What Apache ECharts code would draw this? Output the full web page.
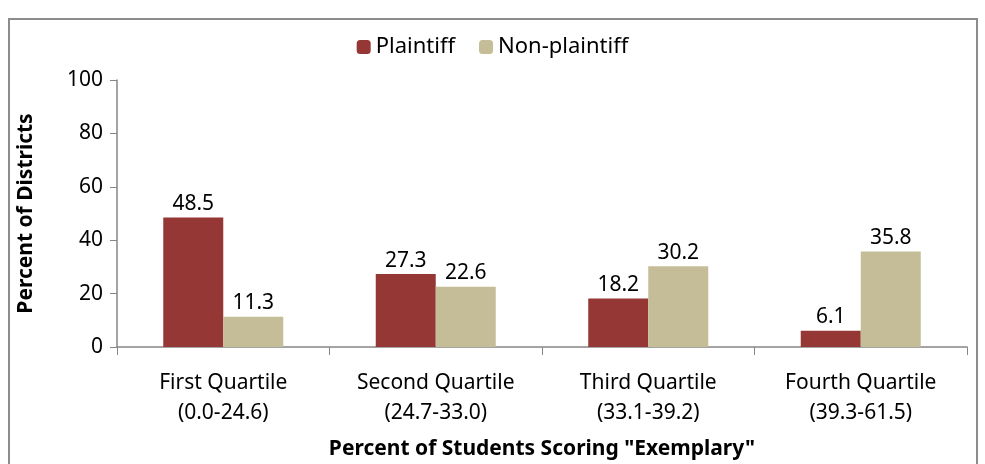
<!DOCTYPE html>
<html>
<head>
<meta charset="utf-8">
<script src="https://cdn.jsdelivr.net/npm/echarts@6/dist/echarts.min.js"></script>
<style>
  html, body { margin: 0; padding: 0; background: #fff; }
  #frame { position: absolute; left: 8px; top: 18px; width: 970px; height: 460px; border: 2px solid #8c8c8c; box-sizing: border-box; }
  #main { position: absolute; left: 0; top: 0; width: 985px; height: 464px; }
</style>
</head>
<body>
<div id="frame"></div>
<div id="main"></div>
<script>
var categories = ['First Quartile\n(0.0-24.6)', 'Second Quartile\n(24.7-33.0)', 'Third Quartile\n(33.1-39.2)', 'Fourth Quartile\n(39.3-61.5)'];
var plaintiff = [48.5, 27.3, 18.2, 6.1];
var nonPlaintiff = [11.3, 22.6, 30.2, 35.8];
var yTicks = [0, 20, 40, 60, 80, 100];

var font = '"Noto Sans", sans-serif';

// 初始化图表
var myChart = echarts.init(document.getElementById('main'));

var option = {
    animation: false,
    textStyle: { fontFamily: font },
    legend: {
        data: ['Plaintiff', 'Non-plaintiff'],
        top: 31,
        left: 'center',
        itemWidth: 14,
        itemHeight: 14,
        itemGap: 24,
        textStyle: { fontSize: 22, color: '#000', fontFamily: font }
    },
    grid: { left: 117, right: 18, top: 80, bottom: 117, outerBoundsMode: 'none', containLabel: false },
    xAxis: {
        type: 'category',
        data: categories,
        name: 'Percent of Students Scoring "Exemplary"',
        nameLocation: 'middle',
        nameGap: 92,
        nameTextStyle: { fontSize: 21, fontWeight: 'bold', color: '#000', fontFamily: font },
        axisLine: { lineStyle: { color: '#868686', width: 1.5 } },
        axisTick: { show: true, length: 8, lineStyle: { color: '#868686' } },
        axisLabel: { fontSize: 21, color: '#000', lineHeight: 30, margin: 21, fontFamily: font }
    },
    yAxis: {
        type: 'value',
        min: yTicks[0],
        max: yTicks[yTicks.length - 1],
        interval: 20,
        name: 'Percent of Districts',
        nameLocation: 'middle',
        nameGap: 80,
        nameTextStyle: { fontSize: 21, fontWeight: 'bold', color: '#000', fontFamily: font },
        axisLine: { show: true, lineStyle: { color: '#868686', width: 1.5 } },
        axisTick: { show: true, length: 7, lineStyle: { color: '#868686' } },
        axisLabel: { fontSize: 21, color: '#000', margin: 14, fontFamily: font },
        splitLine: { show: false }
    },
    series: [
        {
            name: 'Plaintiff',
            type: 'bar',
            data: plaintiff,
            barWidth: 60,
            barGap: '0%',
            itemStyle: { color: '#953735' },
            label: { show: true, position: 'top', fontSize: 21, color: '#000', distance: 3, fontFamily: font }
        },
        {
            name: 'Non-plaintiff',
            type: 'bar',
            data: nonPlaintiff,
            barWidth: 60,
            barGap: '0%',
            itemStyle: { color: '#C4BD97' },
            label: { show: true, position: 'top', fontSize: 21, color: '#000', distance: 3, fontFamily: font }
        }
    ]
};

myChart.setOption(option);
</script>
</body>
</html>
